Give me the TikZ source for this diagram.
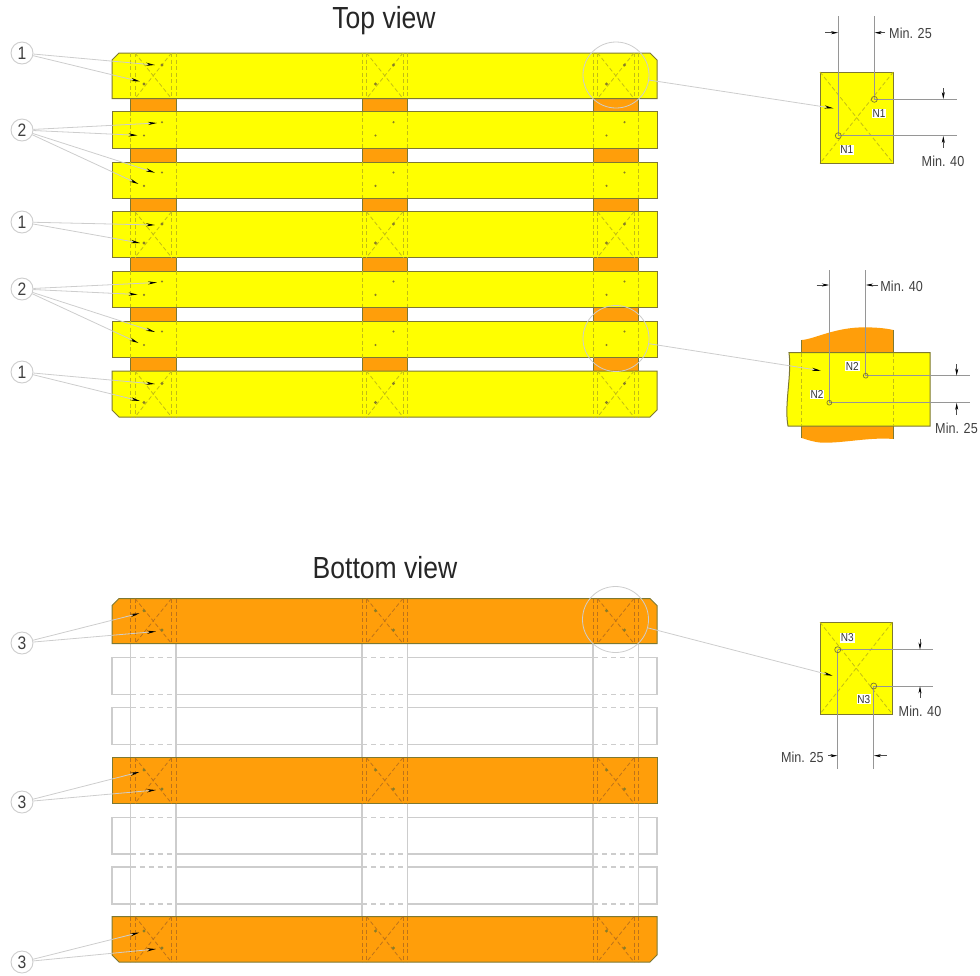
\documentclass[tikz,border=0pt]{standalone}
\usepackage{fontspec}
\setmainfont[FakeStretch=0.87]{Liberation Sans}
\usetikzlibrary{arrows.meta}
\definecolor{plankyellow}{RGB}{255,255,0}
\definecolor{plankorange}{RGB}{255,158,10}
\definecolor{edgeolive}{RGB}{125,120,50}
\definecolor{leadgray}{RGB}{205,205,205}
\definecolor{extgray}{RGB}{150,150,150}
\definecolor{dashy}{RGB}{195,190,20}
\definecolor{dasho}{RGB}{190,115,25}
\definecolor{dotc}{RGB}{135,125,40}
\tikzset{
  yplank/.style={fill=plankyellow,draw=edgeolive,line width=1pt},
  oplank/.style={fill=plankorange,draw=edgeolive,line width=1pt},
  oblock/.style={fill=plankorange,draw=edgeolive,line width=1pt},
  ydash/.style={draw=dashy,line width=.8pt,dash pattern=on 4pt off 2.5pt},
  odash/.style={draw=dasho,line width=.8pt,dash pattern=on 4pt off 2.5pt},
  ghost/.style={draw=leadgray,line width=1.1pt},
  ghostdash/.style={draw=leadgray,line width=1.1pt,dash pattern=on 5pt off 4pt},
  num/.style={circle,draw=leadgray,fill=white,line width=.9pt,minimum size=22pt,inner sep=0pt,font=\fontsize{18}{18}\selectfont,text=black!75},
  mag/.style={circle,draw=leadgray,line width=.8pt,minimum size=66pt,inner sep=0pt},
  leader/.style={draw=leadgray,line width=.8pt,-{Stealth[length=9pt,width=3.2pt,black]}},
  ext/.style={draw=extgray,line width=.7pt},
  dimarrow/.style={draw=black!70,line width=.5pt,-{Stealth[length=7pt,width=3pt,black]}},
  dimtext/.style={inner sep=0pt,font=\fontsize{14.5}{15}\selectfont,text=black!75},
  nlabel/.style={fill=white,inner sep=.8pt,font=\fontsize{11.5}{11.5}\selectfont,text=black!80},
  viewtitle/.style={inner sep=0pt,font=\fontsize{30.5}{30}\selectfont,text=black!85},
  hole/.style={draw=edgeolive,line width=.7pt},
}
% plain plank: top, bottom, style
\newcommand{\flatplank}[3]{\draw[#3] (112,#1) rectangle (657,#2);}
% plank with chamfered top corners
\newcommand{\topchamfer}[3]{\draw[#3] (112,#2) -- (112,#1+7) -- (119,#1) -- (650,#1) -- (657,#1+7) -- (657,#2) -- cycle;}
% plank with chamfered bottom corners
\newcommand{\botchamfer}[3]{\draw[#3] (112,#1) -- (657,#1) -- (657,#2-7) -- (650,#2) -- (119,#2) -- (112,#2-7) -- cycle;}
% wide-plank marks: top, bottom, dash style, dot y low-x, dot y high-x
\newcommand{\widemarks}[5]{%
  \foreach \bx in {130.5,362,593}{
    \draw[#3] (\bx,#1) -- (\bx,#2);
    \draw[#3] (\bx+4.5,#1) -- (\bx+4.5,#2);
    \draw[#3] (\bx+41,#1) -- (\bx+41,#2);
    \draw[#3] (\bx+45.5,#1) -- (\bx+45.5,#2);
    \draw[#3] (\bx+4.5,#1) -- (\bx+41,#2);
    \draw[#3] (\bx+41,#1) -- (\bx+4.5,#2);
    \fill[dotc] (\bx+13.5,#4) circle (1.6);
    \fill[dotc] (\bx+31.5,#5) circle (1.6);
  }}
% narrow-plank marks: top, bottom
\newcommand{\narrowmarks}[2]{%
  \foreach \bx in {130.5,362,593}{
    \draw[ydash] (\bx,#1) -- (\bx,#2);
    \draw[ydash] (\bx+45.5,#1) -- (\bx+45.5,#2);
    \fill[dotc] (\bx+13.5,#2-12.5) circle (1.2);
    \fill[dotc] (\bx+31.5,#1+10.5) circle (1.2);
  }}
% outlined plank of the hidden layer
\newcommand{\ghostplank}[2]{%
  \draw[ghost] (130.5,#1) -- (112,#1) -- (112,#2) -- (130.5,#2);
  \draw[ghost] (176,#1) -- (362,#1) (407.5,#1) -- (593,#1);
  \draw[ghost] (176,#2) -- (362,#2) (407.5,#2) -- (593,#2);
  \draw[ghost] (638.5,#1) -- (657,#1) -- (657,#2) -- (638.5,#2);
  \foreach \bx in {130.5,362,593}{
    \draw[ghostdash] (\bx,#1) -- (\bx+45.5,#1);
    \draw[ghostdash] (\bx,#2) -- (\bx+45.5,#2);
  }}
\begin{document}
\begin{tikzpicture}[x=1pt,y=-1pt]
\useasboundingbox (0,0) rectangle (980,975);

\node[viewtitle] (toptitle) at (384,21) {Top view};
\node[viewtitle] (bottomtitle) at (385,568) {Bottom view};

% ---------- top view ----------
\foreach \bx in {130.5,362,593}{
  \draw[oblock] (\bx,98) rectangle (\bx+45.5,112);
  \draw[oblock] (\bx,148) rectangle (\bx+45.5,162);
  \draw[oblock] (\bx,198) rectangle (\bx+45.5,212);
  \draw[oblock] (\bx,257) rectangle (\bx+45.5,271);
  \draw[oblock] (\bx,307) rectangle (\bx+45.5,321);
  \draw[oblock] (\bx,357) rectangle (\bx+45.5,371);
}
\topchamfer{53}{98.5}{yplank}
\widemarks{53}{98.5}{ydash}{84}{65}
\flatplank{111.7}{148}{yplank}
\narrowmarks{111.7}{148}
\flatplank{162}{198.3}{yplank}
\narrowmarks{162}{198.3}
\flatplank{211.7}{257.3}{yplank}
\widemarks{211.7}{257.3}{ydash}{243}{224}
\flatplank{271}{307.3}{yplank}
\narrowmarks{271}{307.3}
\flatplank{321}{357.5}{yplank}
\narrowmarks{321}{357.5}
\botchamfer{371}{417}{yplank}
\widemarks{371}{417}{ydash}{402.5}{383.5}

% ---------- bottom view ----------
\foreach \bx in {130.5,176,362,407.5,593,638.5}{
  \draw[ghost] (\bx,643) -- (\bx,917);
}
\ghostplank{657.7}{694.3}
\ghostplank{707.3}{744.3}
\ghostplank{817.3}{854}
\ghostplank{867}{904}
\topchamfer{598.5}{643.5}{oplank}
\widemarks{598.5}{643.5}{odash}{610.7}{630}
\flatplank{757.7}{803.3}{oplank}
\widemarks{757.7}{803.3}{odash}{770}{789}
\botchamfer{916.5}{962}{oplank}
\widemarks{916.5}{962}{odash}{931}{948}

% ---------- numbered callouts ----------
\node[num] (a1) at (22,53) {1};
\coordinate (a1x) at (155,65); \coordinate (a1y) at (140,81.5);
\draw[leader] (a1) -- (a1x); \draw[leader] (a1) -- (a1y);

\node[num] (a2) at (22,130) {2};
\coordinate (a2w) at (157,123); \coordinate (a2x) at (137.5,135.3);
\coordinate (a2y) at (155,172.7); \coordinate (a2z) at (138.5,184);
\draw[leader] (a2) -- (a2w); \draw[leader] (a2) -- (a2x);
\draw[leader] (a2) -- (a2y); \draw[leader] (a2) -- (a2z);

\node[num] (a3) at (22,222) {1};
\coordinate (a3x) at (155,225); \coordinate (a3y) at (140,243);
\draw[leader] (a3) -- (a3x); \draw[leader] (a3) -- (a3y);

\node[num] (a4) at (22,289) {2};
\coordinate (a4w) at (157,282.5); \coordinate (a4x) at (137.5,294.5);
\coordinate (a4y) at (155,332); \coordinate (a4z) at (138.5,343);
\draw[leader] (a4) -- (a4w); \draw[leader] (a4) -- (a4x);
\draw[leader] (a4) -- (a4y); \draw[leader] (a4) -- (a4z);

\node[num] (a5) at (22,372) {1};
\coordinate (a5x) at (155,384); \coordinate (a5y) at (140,401);
\draw[leader] (a5) -- (a5x); \draw[leader] (a5) -- (a5y);

\node[num] (a6) at (22,643) {3};
\coordinate (a6x) at (139.5,613.3); \coordinate (a6y) at (156,631.5);
\draw[leader] (a6) -- (a6x); \draw[leader] (a6) -- (a6y);

\node[num] (a7) at (22,802) {3};
\coordinate (a7x) at (139.5,772); \coordinate (a7y) at (156,790);
\draw[leader] (a7) -- (a7x); \draw[leader] (a7) -- (a7y);

\node[num] (a8) at (22,962) {3};
\coordinate (a8x) at (139.5,932.5); \coordinate (a8y) at (156,949);
\draw[leader] (a8) -- (a8x); \draw[leader] (a8) -- (a8y);

% ---------- magnifier circles ----------
\node[mag] (m1) at (616,75) {};
\node[mag] (m2) at (616,338.5) {};
\node[mag] (m3) at (615.5,619.5) {};

% ---------- detail 1 ----------
\draw[yplank] (820,72) rectangle (893.3,163.3);
\draw[ydash] (820,72) -- (893.3,163.3);
\draw[ydash] (893.3,72) -- (820,163.3);
\coordinate (d1a) at (838.3,135.7); \coordinate (d1b) at (874.3,99.3);
\coordinate (d1at) at (838.3,16); \coordinate (d1bt) at (874.3,16);
\coordinate (d1ar) at (957,135.7); \coordinate (d1br) at (957,99.3);
\draw[ext] (d1at) -- (d1a); \draw[ext] (d1bt) -- (d1b);
\draw[ext] (d1a) -- (d1ar); \draw[ext] (d1b) -- (d1br);
\draw[hole] (d1a) circle (3); \draw[hole] (d1b) circle (3);
\coordinate (d1p) at (825,32.7); \coordinate (d1pe) at (838,32.7);
\coordinate (d1q) at (885,32.7); \coordinate (d1qe) at (874.6,32.7);
\draw[dimarrow] (d1p) -- (d1pe); \draw[dimarrow] (d1q) -- (d1qe);
\coordinate (d1u) at (943.3,88); \coordinate (d1ue) at (943.3,99);
\coordinate (d1v) at (943.3,147.5); \coordinate (d1ve) at (943.3,136);
\draw[dimarrow] (d1u) -- (d1ue); \draw[dimarrow] (d1v) -- (d1ve);
\node[dimtext] (t1a) at (910.5,33.5) {Min. 25};
\node[dimtext] (t1b) at (943,161.7) {Min. 40};
\node[nlabel] (n1a) at (879,113.5) {N1};
\node[nlabel] (n1b) at (846.7,150) {N1};
\coordinate (m1tip) at (833.5,108.3);
\draw[leader] (m1) -- (m1tip);

% ---------- detail 2 ----------
\fill[plankorange] (801.7,340) .. controls (815,339) and (835,327) .. (866,327.3)
  .. controls (875,327.5) and (885,328) .. (893.3,330) -- (893.3,439)
  .. controls (870,437) and (845,443) .. (823,442.7)
  .. controls (815,442.5) and (808,440) .. (801.7,438) -- cycle;
\draw[edgeolive,line width=1pt] (801.7,340) -- (801.7,353) (893.3,330) -- (893.3,353);
\draw[edgeolive,line width=1pt] (801.7,426) -- (801.7,438) (893.3,426) -- (893.3,439);
\draw[yplank] (789,352.7) -- (930,352.7) -- (930,426) -- (788,426)
  .. controls (784,405) and (792,375) .. cycle;
\draw[ydash] (801.7,352.7) -- (801.7,426);
\draw[ydash] (893.3,352.7) -- (893.3,426);
\coordinate (d2a) at (829.3,402.7); \coordinate (d2b) at (865.7,375.7);
\coordinate (d2at) at (829.3,270); \coordinate (d2bt) at (865.7,270);
\coordinate (d2ar) at (970,402.7); \coordinate (d2br) at (970,375.7);
\draw[ext] (d2at) -- (d2a); \draw[ext] (d2bt) -- (d2b);
\draw[ext] (d2a) -- (d2ar); \draw[ext] (d2b) -- (d2br);
\draw[hole] (d2a) circle (2.4); \draw[hole] (d2b) circle (2.4);
\coordinate (d2p) at (816.7,285); \coordinate (d2pe) at (829,285);
\coordinate (d2q) at (878,285); \coordinate (d2qe) at (866,285);
\draw[dimarrow] (d2p) -- (d2pe); \draw[dimarrow] (d2q) -- (d2qe);
\coordinate (d2u) at (956.7,364); \coordinate (d2ue) at (956.7,375.5);
\coordinate (d2v) at (956.7,415); \coordinate (d2ve) at (956.7,403);
\draw[dimarrow] (d2u) -- (d2ue); \draw[dimarrow] (d2v) -- (d2ve);
\node[dimtext] (t2a) at (901.7,286) {Min. 40};
\node[dimtext] (t2b) at (956.5,428) {Min. 25};
\node[nlabel] (n2a) at (852.3,366) {N2};
\node[nlabel] (n2b) at (817,394.5) {N2};
\coordinate (m2tip) at (821,370.7);
\draw[leader] (m2) -- (m2tip);

% ---------- detail 3 ----------
\draw[yplank] (820,622.3) rectangle (892.3,714);
\draw[ydash] (820,622.3) -- (892.3,714);
\draw[ydash] (892.3,622.3) -- (820,714);
\coordinate (d3a) at (837.7,649.7); \coordinate (d3b) at (873.7,686);
\coordinate (d3ab) at (837.7,769); \coordinate (d3bb) at (873.7,769);
\coordinate (d3ar) at (933,649.7); \coordinate (d3br) at (933,686);
\draw[ext] (d3a) -- (d3ab); \draw[ext] (d3b) -- (d3bb);
\draw[ext] (d3a) -- (d3ar); \draw[ext] (d3b) -- (d3br);
\draw[hole] (d3a) circle (3); \draw[hole] (d3b) circle (3);
\coordinate (d3p) at (828,755.7); \coordinate (d3pe) at (837.4,755.7);
\coordinate (d3q) at (886.7,755.7); \coordinate (d3qe) at (874,755.7);
\draw[dimarrow] (d3p) -- (d3pe); \draw[dimarrow] (d3q) -- (d3qe);
\coordinate (d3u) at (920,638.5); \coordinate (d3ue) at (920,649.5);
\coordinate (d3v) at (920,698); \coordinate (d3ve) at (920,686.3);
\draw[dimarrow] (d3u) -- (d3ue); \draw[dimarrow] (d3v) -- (d3ve);
\node[dimtext] (t3a) at (920,711.7) {Min. 40};
\node[dimtext] (t3b) at (802.3,757) {Min. 25};
\node[nlabel] (n3a) at (847.3,637.7) {N3};
\node[nlabel] (n3b) at (863.7,699.3) {N3};
\coordinate (m3tip) at (832.7,675.7);
\draw[leader] (m3) -- (m3tip);
\end{tikzpicture}
\end{document}
